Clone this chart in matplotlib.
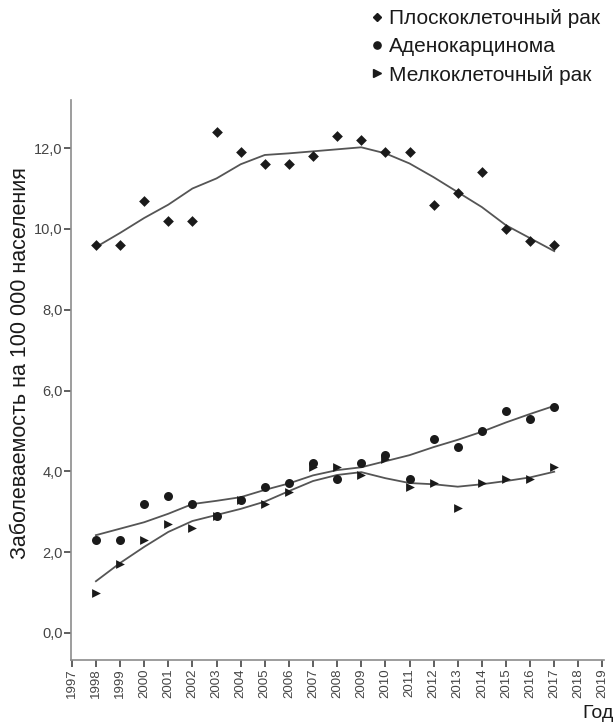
"""
Incidence of lung cancer histological types, 1998-2017, with smoothed trends
"""
import matplotlib
matplotlib.use("Agg")
from matplotlib import pyplot as plt
from matplotlib.lines import Line2D
from matplotlib.ticker import FuncFormatter

plt.rcParams['font.family'] = ['Liberation Sans', 'DejaVu Sans']

years = list(range(1998, 2018))

squamous = [9.6, 9.6, 10.7, 10.2, 10.2, 12.4, 11.9, 11.6, 11.6, 11.8,
            12.3, 12.2, 11.9, 11.9, 10.6, 10.9, 11.4, 10.0, 9.7, 9.6]
adeno = [2.3, 2.3, 3.2, 3.4, 3.2, 2.9, 3.3, 3.6, 3.7, 4.2,
         3.8, 4.2, 4.4, 3.8, 4.8, 4.6, 5.0, 5.5, 5.3, 5.6]
small_cell = [1.0, 1.7, 2.3, 2.7, 2.6, 2.9, 3.3, 3.2, 3.5, 4.1,
              4.1, 3.9, 4.3, 3.6, 3.7, 3.1, 3.7, 3.8, 3.8, 4.1]

# smoothed (loess-like) trend lines
squamous_fit = [9.55, 9.9, 10.27, 10.6, 11.0, 11.25, 11.6, 11.83, 11.87, 11.92,
                11.97, 12.02, 11.87, 11.62, 11.28, 10.91, 10.54, 10.09, 9.77, 9.45]
adeno_fit = [2.42, 2.58, 2.74, 2.95, 3.19, 3.27, 3.36, 3.54, 3.7, 3.9,
             4.03, 4.1, 4.25, 4.4, 4.6, 4.78, 4.98, 5.21, 5.42, 5.62]
small_cell_fit = [1.28, 1.73, 2.13, 2.5, 2.77, 2.92, 3.07, 3.25, 3.51, 3.76,
                  3.91, 3.98, 3.83, 3.71, 3.68, 3.62, 3.68, 3.76, 3.85, 3.99]

labels = ["Плоскоклеточный рак", "Аденокарцинома", "Мелкоклеточный рак"]
x_ticks = list(range(1997, 2020))
y_ticks = [0, 2, 4, 6, 8, 10, 12]

ink = "#1a1a1a"
line_col = "#555555"
axis_col = "#8c8c8c"

fig = plt.figure(figsize=(6.16, 7.28), dpi=100)
ax = fig.add_axes([0.115, 0.0934, 0.865, 0.7692])

for fit in (squamous_fit, adeno_fit, small_cell_fit):
    ax.plot(years, fit, color=line_col, lw=1.3, zorder=2)

ax.scatter(years, small_cell, marker=">", s=40, color=ink, lw=0, zorder=3)
ax.scatter(years, adeno, marker="o", s=42, color=ink, lw=0, zorder=4)
ax.scatter(years, squamous, marker="D", s=30, color=ink, lw=0, zorder=4)

ax.set_xlim(1996.96, 2019.05)
ax.set_ylim(-0.67, 13.19)
ax.set_xticks(x_ticks)
ax.set_xticklabels([str(y) for y in x_ticks], rotation=90)
ax.set_yticks(y_ticks)
ax.yaxis.set_major_formatter(FuncFormatter(lambda v, p: f"{v:.1f}".replace(".", ",")))

for side in ("top", "right"):
    ax.spines[side].set_visible(False)
for side in ("left", "bottom"):
    ax.spines[side].set_color(axis_col)
    ax.spines[side].set_linewidth(1.2)
ax.tick_params(axis="both", length=5, width=1.2, color="#444444",
               labelcolor="#444444", pad=1)
ax.tick_params(axis="x", labelsize=9.5)
ax.tick_params(axis="y", labelsize=10.5)

ax.set_ylabel("Заболеваемость на 100 000 населения", fontsize=15.5, color=ink)
ax.yaxis.set_label_coords(-0.074, 0.53)
fig.text(0.997, 0.008, "Год", ha="right", va="bottom", fontsize=14, color=ink)

handles = [
    Line2D([], [], marker="D", ls="", color=ink, markersize=4.2),
    Line2D([], [], marker="o", ls="", color=ink, markersize=5.2),
    Line2D([], [], marker=">", ls="", color=ink, markersize=5.2),
]
fig.legend(handles, labels, loc="upper right", bbox_to_anchor=(0.982, 0.995),
           frameon=False, fontsize=15, handlelength=0.5, handletextpad=0.3,
           labelspacing=0.45, borderaxespad=0.15, borderpad=0.1, labelcolor=ink)

fig.savefig("out.png", dpi=100)
